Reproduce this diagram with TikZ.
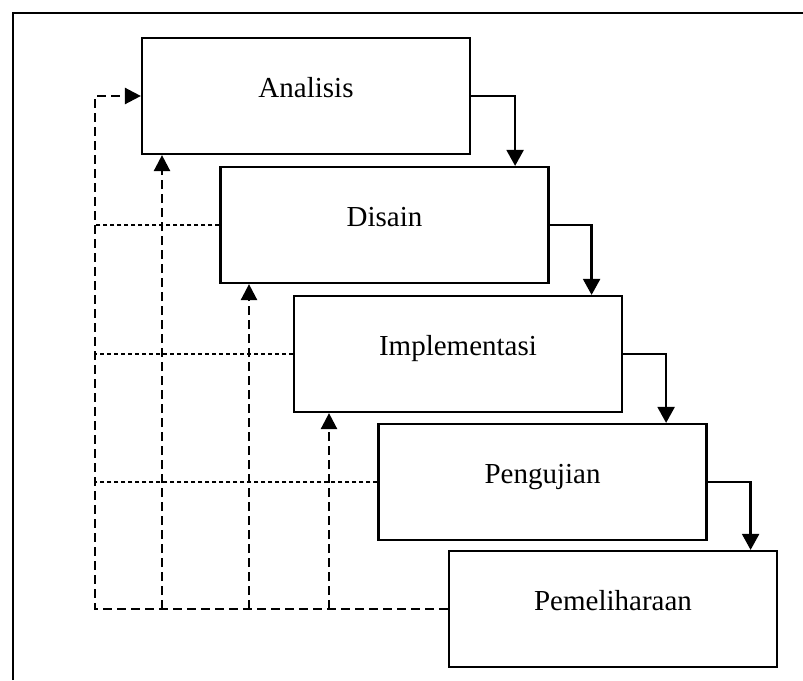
\documentclass[tikz,border=0pt]{standalone}
\usepackage{fontspec}
\setmainfont{Liberation Serif}
\usetikzlibrary{arrows.meta}
\begin{document}
\begin{tikzpicture}[x=1pt,y=-1pt,
  stage/.style={draw,line width=2.2pt,minimum width=328pt,minimum height=116pt,inner sep=0pt,
    text height=0.7em,text depth=0.45em,font=\fontsize{29}{34}\selectfont},
  flow/.style={line width=2.3pt,-{Triangle[width=17pt,length=16pt]}},
  back/.style={line width=2.5pt,dash pattern=on 9pt off 5pt},
  backarrow/.style={back,-{Triangle[width=16pt,length=16pt]}},
  guide/.style={line width=1.1pt,dash pattern=on 4pt off 3pt}]
\useasboundingbox (0,0) rectangle (803,680);
\draw[line width=1.8pt] (13,680) -- (13,13) -- (803,13);
\node[stage] (A) at (306,96) {Analisis};
\node[stage] (D) at (384.5,225) {Disain};
\node[stage] (I) at (458,354) {Implementasi};
\node[stage] (P) at (542.5,482) {Pengujian};
\node[stage] (E) at (613,609) {Pemeliharaan};
% forward flow
\path (A.east) ++(44,0) coordinate (a1);
\path (D.east) ++(42,0) coordinate (d1);
\path (I.east) ++(43,0) coordinate (i1);
\path (P.east) ++(43,0) coordinate (p1);
\draw[flow] (A.east) -- (a1) -- (a1 |- D.north);
\draw[flow] (D.east) -- (d1) -- (d1 |- I.north);
\draw[flow] (I.east) -- (i1) -- (i1 |- P.north);
\draw[flow] (P.east) -- (p1) -- (p1 |- E.north);
% feedback
\coordinate (L) at (95,96);
\draw[backarrow] (E.west) -- (E.west -| L) -- (L) -- (A.west);
\coordinate (b1) at (162,609);
\coordinate (b2) at (249,609);
\coordinate (b3) at (329,609);
\draw[backarrow] (b1) -- (b1 |- A.south);
\draw[backarrow] (b2) -- (b2 |- D.south);
\draw[backarrow] (b3) -- (b3 |- I.south);
\draw[guide] (D.west) -- (D.west -| L);
\draw[guide] (I.west) -- (I.west -| L);
\draw[guide] (P.west) -- (P.west -| L);
\end{tikzpicture}
\end{document}
